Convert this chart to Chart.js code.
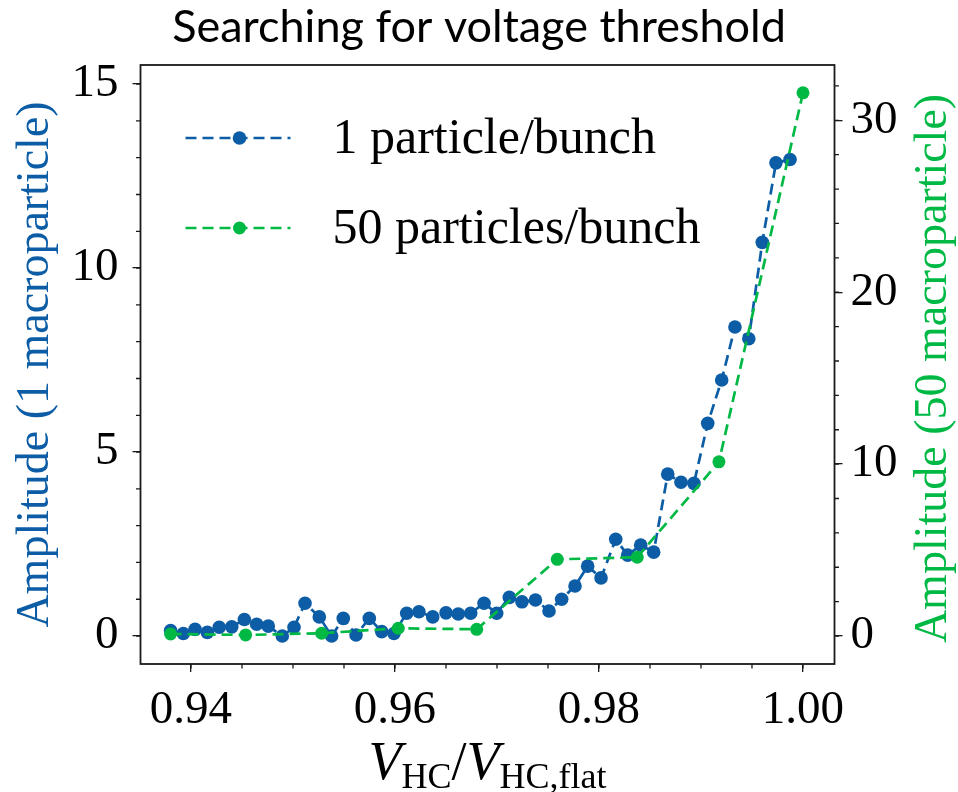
<!DOCTYPE html>
<html>
<head>
<meta charset="utf-8">
<title>Searching for voltage threshold</title>
<script src="https://cdn.jsdelivr.net/npm/chart.js@4/dist/chart.umd.min.js"></script>
<style>
  html, body { margin: 0; padding: 0; background: #fff; }
</style>
</head>
<body>
<canvas id="threshold_chart" width="958" height="792"></canvas>
<script>
// DATA
const one_particle_x = [
  0.9380, 0.93925, 0.9404, 0.9416, 0.94277, 0.9440, 0.94523, 0.94644, 0.94758, 0.94895,
  0.9501, 0.95118, 0.95258, 0.95379, 0.95493, 0.95618, 0.95748, 0.9587, 0.9599, 0.96115,
  0.96235, 0.9637, 0.9650, 0.9662, 0.96742, 0.96873, 0.96997, 0.97121, 0.97245, 0.97377,
  0.9751, 0.97634, 0.97765, 0.97889, 0.9802, 0.98164, 0.98281, 0.98409, 0.98536, 0.98674,
  0.98804, 0.98931, 0.99066, 0.99203, 0.99333, 0.99469, 0.99601, 0.99735, 0.99873
];
const one_particle_amp = [
  0.15, 0.07, 0.18, 0.10, 0.24, 0.25, 0.45, 0.32, 0.27, 0.0,
  0.24, 0.89, 0.52, 0.0, 0.48, 0.03, 0.48, 0.12, 0.07, 0.62,
  0.66, 0.52, 0.63, 0.60, 0.62, 0.89, 0.62, 1.05, 0.93, 0.98,
  0.68, 1.0, 1.36, 1.90, 1.58, 2.63, 2.20, 2.47, 2.28, 4.40,
  4.18, 4.15, 5.78, 6.96, 8.40, 8.08, 10.70, 12.86, 12.95
];
const fifty_particles_x = [0.9380, 0.94536, 0.95281, 0.96032, 0.96801, 0.97591, 0.98375, 0.99176, 1.0000];
const fifty_particles_amp = [0.12, 0.06, 0.16, 0.45, 0.39, 4.46, 4.58, 10.13, 31.6];

const series_labels = ["1 particle/bunch", "50 particles/bunch"];
const x_ticks = [0.94, 0.96, 0.98, 1.00];
const left_ticks = [0, 5, 10, 15];
const right_ticks = [0, 10, 20, 30];

// STYLE
const blue = "#0C5DA5";
const green = "#00B945";
const frame_color = "#1a1a1a";
const serif = "'Liberation Serif', 'DejaVu Serif', serif";

const ctx = document.getElementById("threshold_chart").getContext("2d");

// frame, minor ticks, axis titles and legend
const decorations = {
  id: "decorations",
  afterDraw(chart) {
    const c = chart.ctx;
    const area = chart.chartArea;
    const xs = chart.scales.x, yl = chart.scales.y, yr = chart.scales.y2;
    c.save();

    // minor ticks
    c.strokeStyle = frame_color;
    c.lineWidth = 1.3;
    c.beginPath();
    for (let v = 0.935; v <= xs.max + 1e-9; v += 0.005) {
      const px = xs.getPixelForValue(v);
      if (px < area.left - 0.5 || px > area.right + 0.5) continue;
      c.moveTo(px, area.bottom);
      c.lineTo(px, area.bottom + 4.5);
    }
    for (let v = 0; v <= yl.max; v += 1) {
      const py = yl.getPixelForValue(v);
      c.moveTo(area.left, py);
      c.lineTo(area.left - 4.5, py);
    }
    for (let v = 0; v <= yr.max; v += 2) {
      const py = yr.getPixelForValue(v);
      c.moveTo(area.right, py);
      c.lineTo(area.right + 4.5, py);
    }
    c.stroke();

    // frame
    c.lineWidth = 1.8;
    c.strokeRect(area.left, area.top, area.right - area.left, area.bottom - area.top);

    // y axis titles (both read bottom to top)
    const midY = (area.top + area.bottom) / 2;
    c.font = "46px " + serif;
    c.textAlign = "center";
    c.textBaseline = "middle";
    c.fillStyle = blue;
    c.save();
    c.translate(36, midY);
    c.rotate(-Math.PI / 2);
    c.fillText("Amplitude (1 macroparticle)", 0, 0);
    c.restore();
    c.fillStyle = green;
    c.save();
    c.translate(934, midY + 4);
    c.rotate(-Math.PI / 2);
    c.fillText("Amplitude (50 macroparticle)", 0, 0);
    c.restore();

    // x axis title V_HC / V_HC,flat
    const parts = [
      { t: "V", f: "italic 54px " + serif, dy: 0 },
      { t: "HC", f: "36px " + serif, dy: 9 },
      { t: "/", f: "54px " + serif, dy: 0 },
      { t: "V", f: "italic 54px " + serif, dy: 0 },
      { t: "HC,flat", f: "36px " + serif, dy: 9 }
    ];
    let total = 0;
    parts.forEach((p) => { c.font = p.f; p.w = c.measureText(p.t).width; total += p.w; });
    let px = (area.left + area.right) / 2 - total / 2;
    c.fillStyle = "#000";
    c.textAlign = "left";
    c.textBaseline = "alphabetic";
    parts.forEach((p) => {
      c.font = p.f;
      c.fillText(p.t, px, 779 + p.dy);
      px += p.w;
    });

    // legend
    chart.data.datasets.slice().sort((a, b) => a.legendRow - b.legendRow).forEach((ds) => {
      const rowY = area.top + 73 + ds.legendRow * 90;
      c.strokeStyle = ds.borderColor;
      c.lineWidth = ds.borderWidth;
      c.setLineDash(ds.borderDash);
      c.beginPath();
      c.moveTo(area.left + 45, rowY);
      c.lineTo(area.left + 150, rowY);
      c.stroke();
      c.setLineDash([]);
      c.fillStyle = ds.pointBackgroundColor;
      c.beginPath();
      c.arc(area.left + 99, rowY, ds.pointRadius, 0, Math.PI * 2);
      c.fill();
      c.fillStyle = "#000";
      c.font = "50px " + serif;
      c.textBaseline = "alphabetic";
      c.fillText(ds.label, area.left + 192, rowY + 15);
    });

    c.restore();
  }
};

const tick_grid = {
  drawOnChartArea: false,
  drawTicks: true,
  tickLength: 8,
  color: frame_color,
  lineWidth: 1.3
};

new Chart(ctx, {
  type: "line",
  data: {
    datasets: [
      {
        label: series_labels[0],
        legendRow: 0,
        data: one_particle_x.map((x, i) => ({ x: x, y: one_particle_amp[i] })),
        yAxisID: "y",
        order: 2,
        borderColor: blue,
        backgroundColor: blue,
        pointBackgroundColor: blue,
        pointBorderWidth: 0,
        pointRadius: 6.8,
        borderWidth: 2.7,
        borderDash: [11, 6],
        fill: false,
        tension: 0
      },
      {
        label: series_labels[1],
        legendRow: 1,
        data: fifty_particles_x.map((x, i) => ({ x: x, y: fifty_particles_amp[i] })),
        yAxisID: "y2",
        order: 1,
        borderColor: green,
        backgroundColor: green,
        pointBackgroundColor: green,
        pointBorderWidth: 0,
        pointRadius: 6.5,
        borderWidth: 2.7,
        borderDash: [11, 6],
        fill: false,
        tension: 0
      }
    ]
  },
  options: {
    responsive: false,
    animation: false,
    devicePixelRatio: 1,
    layout: { padding: 0 },
    plugins: {
      legend: { display: false },
      tooltip: { enabled: false },
      title: {
        display: true,
        text: "Searching for voltage threshold",
        color: "#000",
        font: { family: "Lato", size: 45, weight: "normal" },
        padding: { top: 0, bottom: 11 }
      }
    },
    scales: {
      x: {
        type: "linear",
        position: "bottom",
        min: 0.93505,
        max: 1.00309,
        afterBuildTicks: (s) => { s.ticks = x_ticks.map((v) => ({ value: v })); },
        afterFit: (s) => { s.height = 128; },
        ticks: {
          callback: (v) => Number(v).toFixed(2),
          color: "#000",
          font: { family: serif, size: 47 },
          padding: 10,
          maxRotation: 0,
          autoSkip: false
        },
        grid: tick_grid,
        border: { display: false }
      },
      y: {
        type: "linear",
        position: "left",
        min: -0.76,
        max: 15.52,
        afterBuildTicks: (s) => { s.ticks = left_ticks.map((v) => ({ value: v })); },
        afterFit: (s) => { s.width = 140.5; },
        ticks: {
          color: "#000",
          font: { family: serif, size: 47 },
          padding: 14
        },
        grid: tick_grid,
        border: { display: false }
      },
      y2: {
        type: "linear",
        position: "right",
        min: -1.63,
        max: 33.22,
        afterBuildTicks: (s) => { s.ticks = right_ticks.map((v) => ({ value: v })); },
        afterFit: (s) => { s.width = 123.5; },
        ticks: {
          color: "#000",
          font: { family: serif, size: 47 },
          padding: 8
        },
        grid: tick_grid,
        border: { display: false }
      }
    }
  },
  plugins: [decorations]
});
</script>
</body>
</html>
